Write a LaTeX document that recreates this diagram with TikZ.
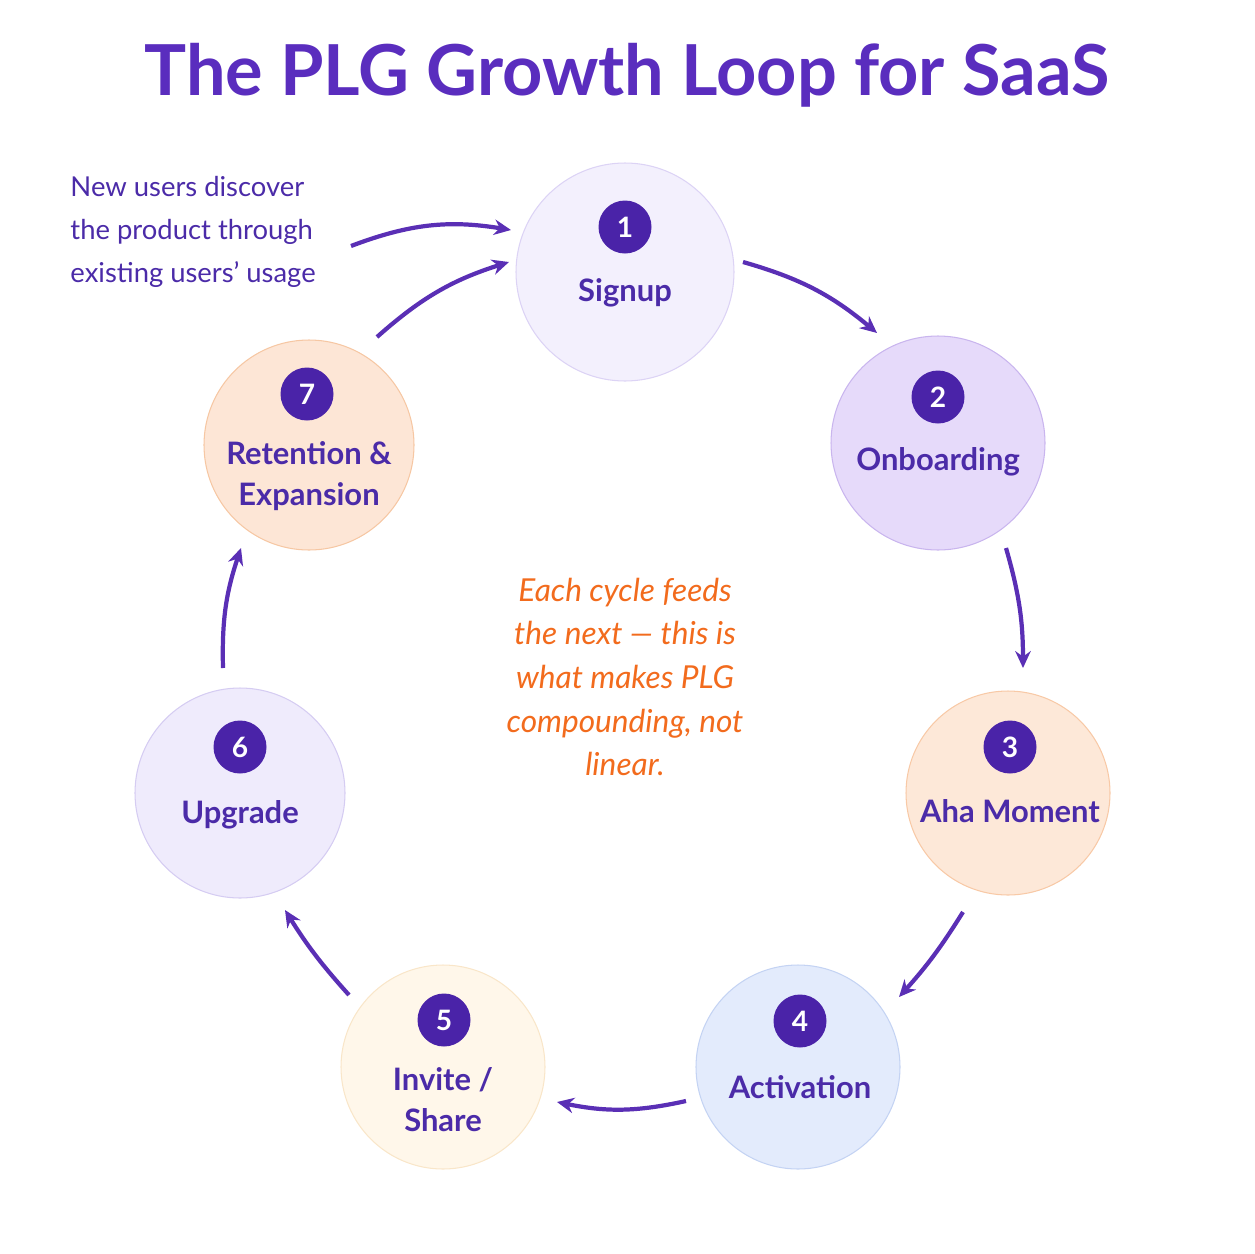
\documentclass[tikz,border=0pt]{standalone}
\usepackage{fontspec}
\setmainfont{Lato}
\usetikzlibrary{arrows.meta}
\definecolor{pur}{HTML}{4B2BA8}
\definecolor{tit}{HTML}{5A2DBE}
\definecolor{arr}{HTML}{5A2FB5}
\definecolor{badge}{HTML}{4A23A8}
\definecolor{org}{HTML}{F26B1D}
\definecolor{f1}{HTML}{F3F0FD}\definecolor{d1}{HTML}{DCD3F5}
\definecolor{f2}{HTML}{E6DAFA}\definecolor{d2}{HTML}{C9B5EE}
\definecolor{f3}{HTML}{FDE8D8}\definecolor{d3}{HTML}{F8C9A6}
\definecolor{f4}{HTML}{E3EBFC}\definecolor{d4}{HTML}{C4D3F3}
\definecolor{f5}{HTML}{FFF7EA}\definecolor{d5}{HTML}{F9E6C9}
\definecolor{f6}{HTML}{EFEBFC}\definecolor{d6}{HTML}{D5CCF2}
\definecolor{f7}{HTML}{FDE6D6}\definecolor{d7}{HTML}{F6C7A3}
\begin{document}
\begin{tikzpicture}[x=0.05cm,y=-0.05cm,
 stage/.style={circle,inner sep=0pt,line width=1.5pt},
 lab/.style={text=pur,align=center,font=\fontsize{44}{58}\selectfont\bfseries},
 num/.style={circle,fill=badge,text=white,minimum size=2.65cm,inner sep=0pt,font=\fontsize{40}{40}\selectfont\bfseries},
 flow/.style={draw=arr,line width=6pt,-{Stealth[length=24pt,width=22pt]}}]
\useasboundingbox (0,0) rectangle (1254,1254);
\node[text=tit,font=\fontsize{100}{110}\selectfont\bfseries] (title) at (627,75) {The PLG Growth Loop for SaaS};
\node[stage,fill=f1,draw=d1,minimum size=10.9cm] (s1) at (625,272) {};
\node[stage,fill=f2,draw=d2,minimum size=10.7cm] (s2) at (938,443) {};
\node[stage,fill=f3,draw=d3,minimum size=10.2cm] (s3) at (1008,793) {};
\node[stage,fill=f4,draw=d4,minimum size=10.2cm] (s4) at (798,1067) {};
\node[stage,fill=f5,draw=d5,minimum size=10.2cm] (s5) at (443,1067) {};
\node[stage,fill=f6,draw=d6,minimum size=10.5cm] (s6) at (240,793) {};
\node[stage,fill=f7,draw=d7,minimum size=10.5cm] (s7) at (309,445) {};
\node[num] (n1) at (625,227) {1};
\node[num] (n2) at (938,397) {2};
\node[num] (n3) at (1010,747) {3};
\node[num] (n4) at (800,1021) {4};
\node[num] (n5) at (444,1020) {5};
\node[num] (n6) at (240,747) {6};
\node[num] (n7) at (307,394) {7};
\node[lab] (l1) at (625,293) {Signup};
\node[lab] (l2) at (938,462) {Onboarding};
\node[lab] (l3) at (1010,811) {Aha Moment};
\node[lab] (l4) at (800,1087) {Activation};
\node[lab] (l5) at (443,1100) {Invite /\\Share};
\node[lab] (l6) at (240,815) {Upgrade};
\node[lab] (l7) at (309,476) {Retention \&\\Expansion};
\node[text=org,font=\fontsize{45}{62}\selectfont\itshape,align=center] (mid) at (625,677) {Each cycle feeds\\the next — this is\\what makes PLG\\compounding, not\\linear.};
\node[text=pur,font=\fontsize{39}{61}\selectfont,align=left,anchor=west] (note) at (68,232) {New users discover\\the product through\\existing users’ usage};
\coordinate (a1s) at (743,262); \coordinate (a1e) at (877,333);
\coordinate (a2s) at (1006,548); \coordinate (a2e) at (1023,668);
\coordinate (a3s) at (963,912); \coordinate (a3e) at (899,997);
\coordinate (a4s) at (686,1101); \coordinate (a4e) at (557,1102);
\coordinate (a5s) at (349,995); \coordinate (a5e) at (285,910);
\coordinate (a6s) at (223,668); \coordinate (a6e) at (241,548);
\coordinate (a7s) at (377,337); \coordinate (a7e) at (509,262);
\coordinate (a8s) at (351,246); \coordinate (a8e) at (511,230);
\draw[flow] (a1s) to[bend left=12] (a1e);
\draw[flow] (a2s) to[bend left=8] (a2e);
\draw[flow] (a3s) to[bend left=5] (a3e);
\draw[flow] (a4s) to[bend left=12] (a4e);
\draw[flow] (a5s) to[bend left=5] (a5e);
\draw[flow] (a6s) to[bend left=10] (a6e);
\draw[flow] (a7s) to[bend left=12] (a7e);
\draw[flow] (a8s) to[bend left=15] (a8e);
\end{tikzpicture}
\end{document}
